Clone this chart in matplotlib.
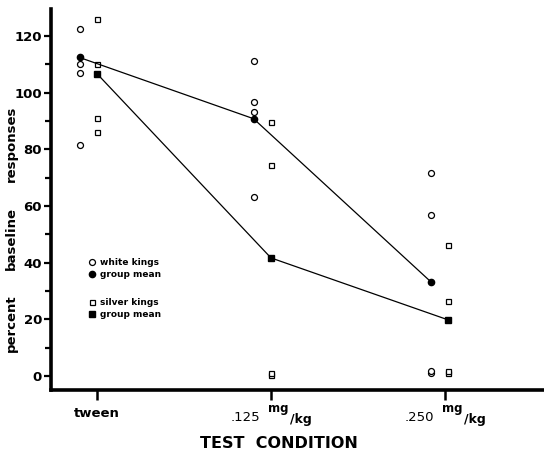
import matplotlib
matplotlib.use('Agg')
import matplotlib.pyplot as plt
from matplotlib.lines import Line2D
from matplotlib.ticker import MultipleLocator

# values (percent of baseline responses)
conditions = ["tween", ".125", ".250"]
white_kings = [[122.6, 110.0, 107.0, 81.6],
               [111.3, 96.8, 93.0, 63.2],
               [71.7, 56.9, 1.0, 1.8]]
white_mean = [112.4, 90.8, 33.2]
silver_kings = [[126.0, 110.0, 91.0, 86.0],
                [89.8, 74.6, 0.3, 1.1],
                [46.3, 26.5, 1.0, 1.8]]
silver_mean = [106.7, 41.7, 19.8]
y_ticks = [0, 20, 40, 60, 80, 100, 120]
ylabel_words = ["percent", "baseline", "responses"]

# small horizontal offsets so the two groups sit side by side
white_off = [-0.10, -0.10, -0.08]
silver_off = [0.0, 0.0, 0.02]

fig = plt.figure(figsize=(5.44, 4.51), dpi=100)
ax = fig.add_axes([51 / 544, 1 - 390 / 451, 493 / 544, 381 / 451])

for i, vals in enumerate(white_kings):
    ax.plot([i + white_off[i]] * len(vals), vals, 'o', ms=4.3, mfc='white',
            mec='black', mew=0.9, ls='none')
for i, vals in enumerate(silver_kings):
    ax.plot([i + silver_off[i]] * len(vals), vals, 's', ms=3.6, mfc='white',
            mec='black', mew=0.9, ls='none')

xw = [i + white_off[i] for i in range(len(conditions))]
xs = [i + silver_off[i] for i in range(len(conditions))]
ax.plot(xw, white_mean, '-', color='black', lw=0.9, marker='o', ms=4.5,
        mfc='black', mec='black')
ax.plot(xs, silver_mean, '-', color='black', lw=0.9, marker='s', ms=3.8,
        mfc='black', mec='black')

ax.set_xlim(-0.264, 2.569)
ax.set_ylim(-4.9, 129.5)

for side in ['top', 'right']:
    ax.spines[side].set_visible(False)
ax.spines['left'].set_linewidth(2.6)
ax.spines['bottom'].set_linewidth(2.6)

ax.set_yticks(y_ticks)
ax.yaxis.set_minor_locator(MultipleLocator(10))
ax.tick_params(axis='y', which='major', direction='out', length=5, width=1.6,
               pad=1.5, labelsize=9.5)
ax.tick_params(axis='y', which='minor', direction='out', length=4, width=1.6)
for lab in ax.get_yticklabels():
    lab.set_fontweight('bold')

ax.set_xticks(range(len(conditions)))
ax.set_xticklabels([conditions[0], "", ""])
ax.tick_params(axis='x', direction='out', length=7, width=1.8, pad=5,
               labelsize=9.5)
for lab in ax.get_xticklabels():
    lab.set_fontweight('bold')

# dose labels with the raised "mg" over "/kg"
for i in (1, 2):
    xy = (i, 0)
    kw = dict(xy=xy, xycoords=('data', 'axes fraction'),
              textcoords='offset points', annotation_clip=False)
    ax.annotate(conditions[i], xytext=(-8, -20), ha='right', va='center',
                fontsize=9.5, **kw)
    ax.annotate("mg", xytext=(-2, -13), ha='left', va='center',
                fontsize=8.5, fontweight='bold', **kw)
    ax.annotate("/kg", xytext=(13.5, -21.5), ha='left', va='center',
                fontsize=9, fontweight='bold', **kw)

# legends
h1 = [Line2D([], [], ls='none', marker='o', ms=4.3, mfc='white', mec='black', mew=0.9),
      Line2D([], [], ls='none', marker='o', ms=4.5, mfc='black', mec='black')]
h2 = [Line2D([], [], ls='none', marker='s', ms=3.6, mfc='white', mec='black', mew=0.9),
      Line2D([], [], ls='none', marker='s', ms=3.8, mfc='black', mec='black')]
leg_kw = dict(loc='center left', frameon=False, handlelength=0.6,
              handletextpad=0.6, labelspacing=0.35, borderpad=0,
              borderaxespad=0, prop={'size': 6.5, 'weight': 'bold'})
leg1 = ax.legend(h1, ["white kings", "group mean"],
                 bbox_to_anchor=(0.078, 0.319), **leg_kw)
ax.add_artist(leg1)
ax.legend(h2, ["silver kings", "group mean"],
          bbox_to_anchor=(0.078, 0.214), **leg_kw)

# spread-out y label, one word at a time (bottom to top)
for word, yc in zip(ylabel_words, [323, 239, 144]):
    fig.text(11 / 544, 1 - yc / 451, word, rotation=90, ha='center',
             va='center', fontsize=9.5, fontweight='bold')
fig.text(279 / 544, 1 - 444 / 451, "TEST  CONDITION", ha='center',
         va='center', fontsize=11.5, fontweight='bold')

fig.savefig('out.png', dpi=100)
